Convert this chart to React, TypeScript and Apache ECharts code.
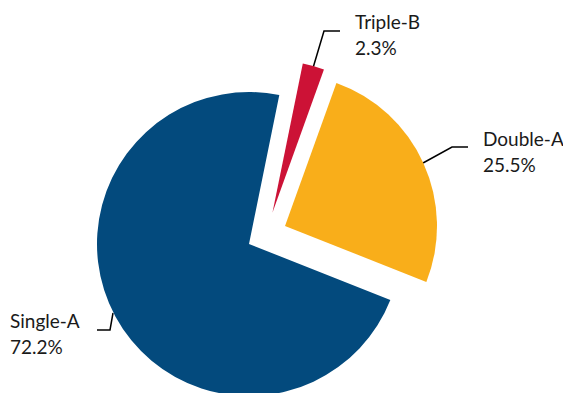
import React, { useEffect, useRef } from "react";
import * as echarts from "echarts";

const categories = ["Triple-B", "Double-A", "Single-A"];
const shares = [2.3, 25.5, 72.2];
const colors = ["#CC1236", "#F9AE1A", "#034A7D"];

// per-slice pie centres (exploded slices) and label layout
const centers: [number, number][] = [
  [272.5, 212.5],
  [285, 226],
  [249, 244],
];
const labelPos: { x: number; y: number; line: number[][] }[] = [
  { x: 355, y: 34, line: [[313, 68], [324, 31], [340, 31]] },
  { x: 483, y: 151, line: [[423, 163], [452, 147], [468, 147]] },
  { x: 10, y: 333, line: [[113, 313], [110, 330], [97, 330]] },
];

export default function App() {
  const ref = useRef<HTMLDivElement>(null);
  useEffect(() => {
    if (!ref.current) return;
    const chart = echarts.init(ref.current, undefined, { renderer: "svg" });
    const series = categories.map((_, si) => ({
      type: "pie",
      center: centers[si],
      radius: [0, 152],
      startAngle: 78.5,
      clockwise: true,
      silent: true,
      z: si,
      data: categories.map((name, i) => ({
        name,
        value: shares[i],
        itemStyle: { color: i === si ? colors[i] : "transparent" },
        label: { show: i === si },
        labelLine: { show: i === si },
      })),
      label: {
        show: true,
        position: "outside",
        formatter: (p: any) => `${p.name}\n${Number(p.value).toFixed(1)}%`,
        fontFamily: "Lato",
        fontSize: 19,
        lineHeight: 26,
        color: "#1a1a1a",
        align: "left",
        overflow: "none",
        width: 120,
      },
      labelLine: {
        show: true,
        lineStyle: { color: "#000", width: 1.5 },
      },
      labelLayout: () => ({
        x: labelPos[si].x,
        y: labelPos[si].y,
        align: "left",
        verticalAlign: "middle",
        labelLinePoints: labelPos[si].line,
      }),
    }));
    chart.setOption({
      animation: false,
      backgroundColor: "#ffffff",
      series,
    } as any);
    return () => chart.dispose();
  }, []);
  return (
    <div
      ref={ref}
      style={{ position: "fixed", left: 0, top: 0, width: 563, height: 393 }}
    />
  );
}
